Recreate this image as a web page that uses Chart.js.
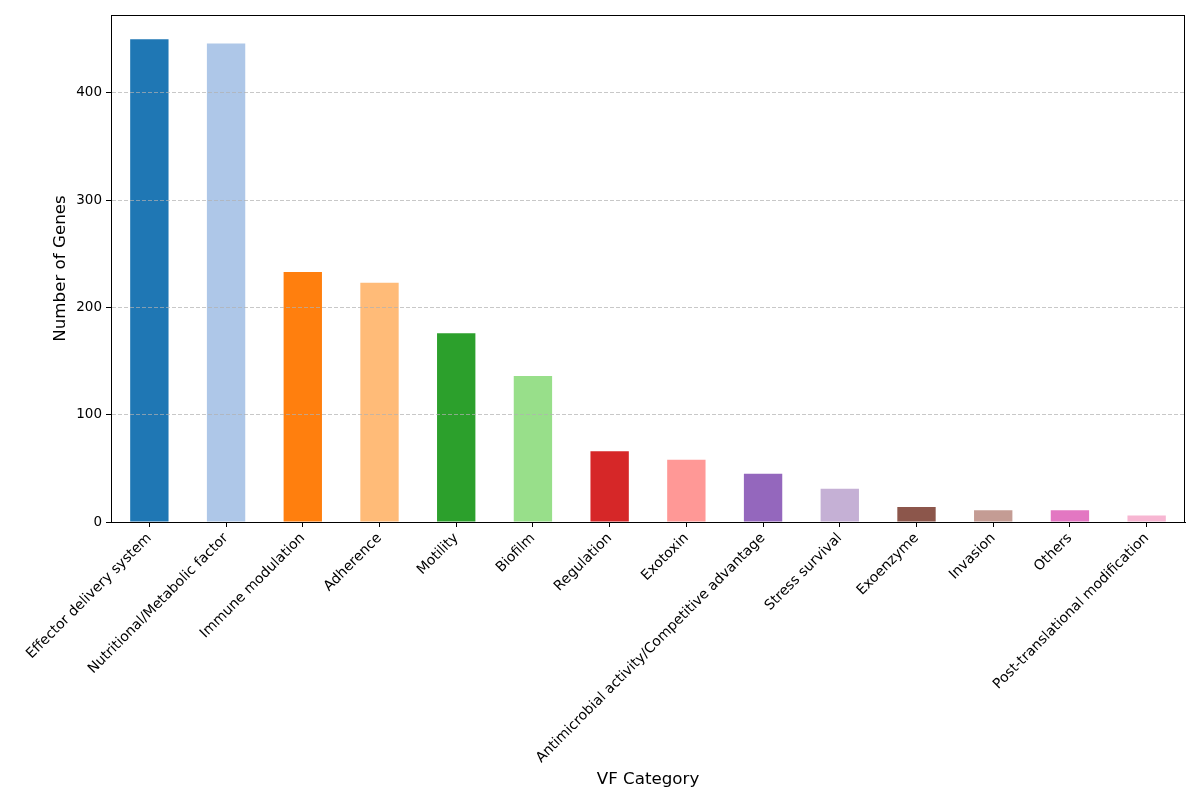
<!DOCTYPE html>
<html>
<head>
<meta charset="utf-8">
<script src="https://cdn.jsdelivr.net/npm/chart.js@4"></script>
<style>
html,body{margin:0;padding:0;background:#fff;}
#wrap{width:1200px;height:800px;}
</style>
</head>
<body>
<div id="wrap"><canvas id="c" width="1200" height="800"></canvas></div>
<script>
const categories = ["Effector delivery system","Nutritional/Metabolic factor","Immune modulation","Adherence","Motility","Biofilm","Regulation","Exotoxin","Antimicrobial activity/Competitive advantage","Stress survival","Exoenzyme","Invasion","Others","Post-translational modification"];
const geneCounts = [450, 446, 233, 223, 176, 136, 66, 58, 45, 31, 14, 11, 11, 6];
const barColors = ["#1f77b4","#aec7e8","#ff7f0e","#ffbb78","#2ca02c","#98df8a","#d62728","#ff9896","#9467bd","#c5b0d5","#8c564b","#c49c94","#e377c2","#f7b6d2"];
const yTicks = [0, 100, 200, 300, 400];

const FONT = "'DejaVu Sans', sans-serif";

const boxPlugin = {
  id: 'box',
  afterDraw(chart) {
    const a = chart.chartArea, ctx = chart.ctx;
    ctx.save();
    ctx.strokeStyle = '#000';
    ctx.lineWidth = 1;
    ctx.strokeRect(Math.round(a.left)+0.5, Math.round(a.top)+0.5, Math.round(a.right-a.left)-1, Math.round(a.bottom-a.top));
    ctx.restore();
  }
};

new Chart(document.getElementById('c'), {
  type: 'bar',
  data: {
    labels: categories,
    datasets: [{
      data: geneCounts,
      backgroundColor: barColors,
      borderWidth: 0,
      inflateAmount: 0,
      barPercentage: 0.5,
      categoryPercentage: 1.0
    }]
  },
  options: {
    responsive: false,
    animation: false,
    devicePixelRatio: 1,
    layout: { padding: { top: 15, right: 15, left: 0, bottom: 0 } },
    plugins: { legend: { display: false }, tooltip: { enabled: false } },
    scales: {
      x: {
        offset: true,
        afterFit(s) { s.height = 278; },
        grid: { display: true, offset: false, drawOnChartArea: false, drawTicks: true, tickLength: 5, color: '#000' },
        border: { display: true, color: '#000' },
        ticks: {
          color: '#000',
          font: { family: FONT, size: 14 },
          minRotation: 45, maxRotation: 45,
          autoSkip: false,
          padding: 3
        },
        title: {
          display: true, text: 'VF Category', color: '#000',
          font: { family: FONT, size: 16.7 },
          padding: { top: 0, bottom: 10 }
        }
      },
      y: {
        min: 0, max: 472.5,
        afterFit(s) { s.width = 111; },
        afterBuildTicks(s) { s.ticks = yTicks.map(v => ({ value: v })); },
        grid: { display: true, drawOnChartArea: true, drawTicks: true, tickLength: 5, color: 'rgba(176,176,176,0.7)', tickColor: '#000', z: 1 },
        border: { display: true, color: '#000', dash: [4, 2], z: 1 },
        ticks: {
          color: '#000',
          font: { family: FONT, size: 13.5 },
          padding: 4
        },
        title: {
          display: true, text: 'Number of Genes', color: '#000',
          font: { family: FONT, size: 16.7 },
          padding: { top: 51, bottom: 0 }
        }
      }
    }
  },
  plugins: [boxPlugin]
});
</script>
</body>
</html>
